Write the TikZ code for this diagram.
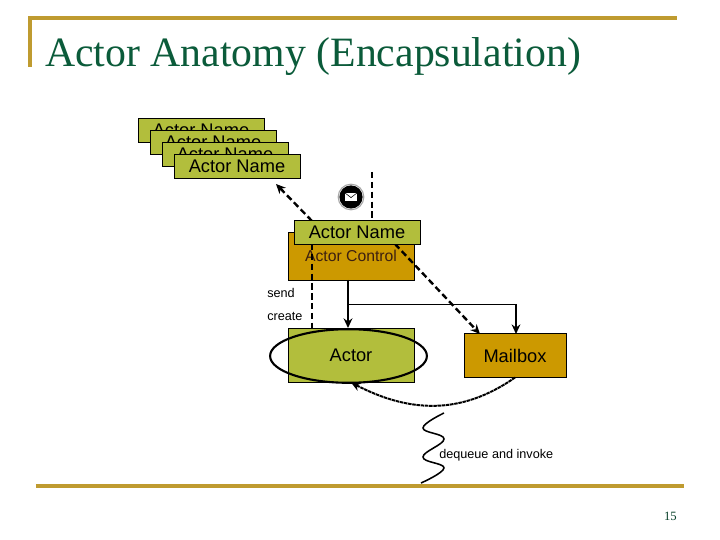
\documentclass[tikz,border=0pt]{standalone}
\usepackage{fontspec}
\setmainfont{Liberation Sans}
\newfontfamily\slidefont{Liberation Serif}
\usetikzlibrary{arrows.meta}
\definecolor{rulegold}{HTML}{BF9B30}
\definecolor{titlegreen}{HTML}{0B5B3A}
\definecolor{actgreen}{HTML}{B2BE3C}
\definecolor{actorange}{HTML}{CC9900}
\definecolor{ctrltext}{HTML}{3D2010}

\begin{document}
\begin{tikzpicture}[>={Stealth[length=2.4mm, width=2.2mm]},
  namebox/.style={draw=black, fill=actgreen, line width=0.6pt, inner sep=0pt,
    minimum width=3.15cm, minimum height=0.6cm, font=\fontsize{13}{15}\selectfont},
  orangebox/.style={draw=black, fill=actorange, line width=0.6pt, inner sep=0pt, font=\fontsize{13}{15}\selectfont},
  dashline/.style={black, line width=1.7pt, dash pattern=on 4.5pt off 2.5pt},
  smalllabel/.style={anchor=west, inner sep=0pt, font=\fontsize{9}{11}\selectfont}]

% Background
\fill[white] (0,0) rectangle (18,13.5);

% Slide frame
\draw[rulegold, line width=2.2pt] (0.75,11.825) -- (0.75,13.05) -- (16.925,13.05);
\draw[rulegold, line width=2.2pt] (0.9,1.35) -- (17.1,1.35);
\node (title) [text=titlegreen, font=\slidefont\fontsize{29.7}{34}\selectfont, anchor=west, inner sep=0pt] at (1.125,12.09)
  {Actor Anatomy (Encapsulation)};
\node (pagenum) [text=titlegreen!70!black, font=\slidefont\fontsize{9}{11}\selectfont, anchor=east, inner sep=0pt] at (16.925,0.6) {15};

% Stack of remote actors
\node (nameA) [namebox] at (5.025,10.25) {Actor Name};
\node (nameB) [namebox] at (5.325,9.95) {Actor Name};
\node (nameC) [namebox] at (5.625,9.65) {Actor Name};
\node (nameD) [namebox] at (5.925,9.35) {Actor Name};

% Actor body
\node (control) [orangebox, text=ctrltext, font=\fontsize{11.2}{13}\selectfont, minimum width=3.15cm, minimum height=1.2cm] at (8.775,7.1) {Actor Control};
\node (actor) [namebox, minimum height=1.35cm] at (8.775,4.625) {Actor};
\node (mailbox) [orangebox, minimum width=2.55cm, minimum height=1.08cm] at (12.875,4.6125) {Mailbox};
\draw[black, line width=1.5pt] (8.7125,4.6) ellipse (1.96 and 0.67);

% Free ends of the connectors
\coordinate (replyfrom) at (7.8,7.975);
\coordinate (replyto) at (6.9,8.9);
\coordinate (creatorup) at (7.8,7.4);
\coordinate (creatordown) at (7.8,5.3);
\coordinate (msgtop) at (9.3,9.2);
\coordinate (msgbottom) at (9.3,7.975);
\coordinate (msgfrom) at (9.875,7.4);
\coordinate (msgto) at (12,5.15);
\coordinate (trunktop) at (8.7,6.5);
\coordinate (trunkend) at (8.7,5.3);
\coordinate (branch) at (8.7,5.9);
\coordinate (branchcorner) at (12.9,5.9);
\coordinate (branchend) at (12.9,5.15);

% Dashed message paths
\draw[dashline] (creatorup) -- (creatordown);
\draw[dashline] (msgtop) -- (msgbottom);
\draw[dashline, ->] (replyfrom) -- (replyto);
\draw[dashline, ->] (msgfrom) -- (msgto);

% Name of this actor sits over the control box
\node (thisname) [namebox] at (8.925,7.69) {Actor Name};

% Solid links from the control box
\draw[black, line width=1.2pt, ->] (trunktop) -- (trunkend);
\draw[black, line width=0.6pt] (branch) -- (branchcorner);
\draw[black, line width=1.0pt, ->] (branchcorner) -- (branchend);

% Dequeue curve
\draw[black, line width=1.4pt, dash pattern=on 2.5pt off 0.5pt, ->]
  (mailbox.south) .. controls (11.5,3.1) and (10.2,3.2) .. (actor.south);

% Thread
\draw[black, line width=1.1pt]
  plot[smooth, tension=0.7] coordinates
  {(11.1,3.175) (10.575,2.8) (11.1,2.525) (10.575,2.075) (11.1,1.8) (10.525,1.425)};

% Labels
\node (sendlabel) [smalllabel] at (6.675,6.175) {send};
\node (createlabel) [smalllabel] at (6.675,5.6) {create};
\node (dequeuelabel) [smalllabel] at (10.975,2.13) {dequeue and invoke};

% Message icon
\fill[black] (8.775,8.575) circle (0.29);
\draw[black!35, line width=0.8pt] (8.775,8.575) circle (0.32);
\fill[white] (8.62,8.47) rectangle (8.93,8.68);
\draw[black, line width=0.4pt] (8.62,8.68) -- (8.775,8.56) -- (8.93,8.68);

\end{tikzpicture}
\end{document}
